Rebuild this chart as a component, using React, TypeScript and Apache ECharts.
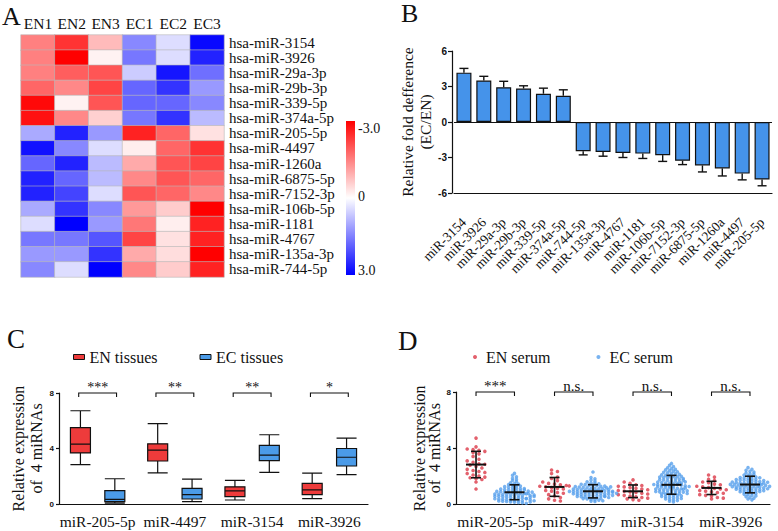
import React, { useEffect, useRef } from 'react';
import * as echarts from 'echarts';

const SERIF = 'Liberation Serif, serif';
const SANS = 'Liberation Sans, sans-serif';
const INK = '#111111';

// ---------- Panel A: heatmap ----------
const heatCols = ['EN1', 'EN2', 'EN3', 'EC1', 'EC2', 'EC3'];
const heatRows = [
  'hsa-miR-3154', 'hsa-miR-3926', 'hsa-miR-29a-3p', 'hsa-miR-29b-3p', 'hsa-miR-339-5p',
  'hsa-miR-374a-5p', 'hsa-miR-205-5p', 'hsa-miR-4497', 'hsa-miR-1260a', 'hsa-miR-6875-5p',
  'hsa-miR-7152-3p', 'hsa-miR-106b-5p', 'hsa-miR-1181', 'hsa-miR-4767', 'hsa-miR-135a-3p',
  'hsa-miR-744-5p',
];
const heatValues = [
  [-1.5, -2.4, -0.8, 1.4, 0.4, 2.9],
  [-1.5, -3.0, -0.15, 1.6, 0.4, 2.6],
  [-1.5, -1.9, -2.0, 0.6, 2.75, 1.7],
  [-1.8, -1.4, -2.2, 1.8, 2.4, 1.2],
  [-2.9, -0.15, -2.0, 1.8, 1.8, 1.4],
  [-2.8, -1.4, -0.55, 1.6, 2.4, 0.8],
  [1.0, 2.6, 1.2, -2.6, -1.8, -0.35],
  [2.8, 1.4, 0.4, -0.2, -1.8, -2.4],
  [1.8, 2.6, 0.8, -1.0, -2.0, -2.2],
  [2.6, 1.8, 0.8, -1.4, -2.0, -1.8],
  [2.6, 2.2, 0.4, -2.0, -1.8, -1.4],
  [1.0, 2.4, 1.4, -1.2, -0.6, -3.0],
  [0.4, 3.0, 1.2, -1.6, -0.2, -2.6],
  [1.6, 1.6, 2.0, -2.2, -0.35, -2.6],
  [1.2, 1.2, 2.4, -1.0, -0.4, -3.0],
  [1.4, 0.4, 3.0, -1.4, -0.6, -2.6],
];
const colorbarLabels = ['-3.0', '0', '3.0'];

// ---------- Panel B: fold difference ----------
const foldCats = [
  'miR-3154', 'miR-3926', 'miR-29a-3p', 'miR-29b-3p', 'miR-339-5p', 'miR-374a-5p',
  'miR-744-5p', 'miR-135a-3p', 'miR-4767', 'miR-1181', 'miR-106b-5p', 'miR-7152-3p',
  'miR-6875-5p', 'miR-1260a', 'miR-4497', 'miR-205-5p',
];
const foldValues = [4.17, 3.5, 2.94, 2.83, 2.39, 2.22, -2.47, -2.53, -2.61, -2.67, -2.8, -3.28, -3.67, -3.92, -4.36, -4.86];
const foldErrors = [0.36, 0.36, 0.5, 0.23, 0.47, 0.5, 0.31, 0.36, 0.39, 0.41, 0.53, 0.32, 0.55, 0.64, 0.53, 0.53];
const foldTicks = { min: -6, max: 6, interval: 3 };

// ---------- Panel C: tissues boxplot ----------
const mirCats = ['miR-205-5p', 'miR-4497', 'miR-3154', 'miR-3926'];
// [min, Q1, median, Q3, max]
const tissueEN = [
  [2.84, 3.68, 4.32, 5.5, 6.72],
  [2.25, 3.1, 3.88, 4.34, 5.79],
  [0.29, 0.53, 0.95, 1.24, 1.7],
  [0.39, 0.68, 1.02, 1.48, 2.23],
];
const tissueEC = [
  [0.07, 0.17, 0.34, 0.97, 1.82],
  [0.17, 0.36, 0.68, 1.12, 1.79],
  [2.28, 3.13, 3.52, 4.22, 4.99],
  [2.11, 2.74, 3.37, 4.0, 4.75],
];
const tissueSig = ['***', '**', '**', '*'];

// ---------- Panel D: serum scatter ----------
const serumEN = [
  [4.72, 4.1, 3.95, 3.9, 3.85, 3.78, 3.7, 3.6, 3.42, 3.22, 3.1, 3.0, 2.9, 2.86, 2.8, 2.7, 2.6, 2.5, 2.42, 2.35, 2.28, 2.2, 2.1, 2.02, 1.95, 1.9, 1.84, 1.78, 1.6, 1.1],
  [2.45, 2.35, 2.2, 1.95, 1.85, 1.7, 1.6, 1.5, 1.45, 1.4, 1.35, 1.3, 1.25, 1.2, 1.15, 1.1, 1.0, 0.95, 0.85, 0.8, 0.7, 0.6, 0.5, 0.4, 0.3, 0.25, 1.32],
  [1.75, 1.6, 1.5, 1.4, 1.35, 1.3, 1.25, 1.2, 1.15, 1.1, 1.05, 1.0, 0.95, 0.9, 0.85, 0.8, 0.75, 0.7, 0.65, 0.6, 0.55, 0.5, 0.45, 0.4, 0.35, 0.3],
  [2.1, 1.95, 1.8, 1.7, 1.6, 1.55, 1.45, 1.4, 1.3, 1.25, 1.2, 1.15, 1.1, 1.05, 1.0, 0.95, 0.9, 0.85, 0.8, 0.7, 0.65, 0.6, 0.5, 0.45, 0.4],
];
const serumEC = [
  [2.21, 2.08, 1.97, 1.86, 1.79, 1.71, 1.63, 1.55, 1.49, 1.46, 1.41, 1.38, 1.33, 1.31, 1.27, 1.22, 1.19, 1.17, 1.12, 1.09, 1.07, 1.04, 1.01, 0.99, 0.97, 0.93, 0.91, 0.9, 0.87, 0.86, 0.83, 0.81, 0.79, 0.78, 0.74, 0.73, 0.71, 0.69, 0.67, 0.66, 0.63, 0.62, 0.59, 0.58, 0.56, 0.53, 0.52, 0.49, 0.47, 0.46, 0.43, 0.41, 0.39, 0.37, 0.36, 0.33, 0.31, 0.29, 0.27, 0.25, 0.23, 0.21, 0.19, 0.17, 0.14, 0.12, 0.09, 0.88, 0.76, 0.64, 0.51, 0.42, 0.34, 0.27, 0.18, 1.03, 0.95, 0.57, 0.68, 1.14],
  [2.31, 1.92, 1.83, 1.74, 1.66, 1.61, 1.55, 1.52, 1.47, 1.44, 1.41, 1.38, 1.36, 1.33, 1.29, 1.27, 1.24, 1.22, 1.19, 1.16, 1.14, 1.12, 1.09, 1.07, 1.05, 1.03, 1.01, 0.99, 0.97, 0.95, 0.93, 0.92, 0.9, 0.88, 0.86, 0.84, 0.83, 0.81, 0.79, 0.77, 0.76, 0.74, 0.72, 0.7, 0.68, 0.66, 0.64, 0.62, 0.6, 0.58, 0.56, 0.54, 0.52, 0.49, 0.47, 0.44, 0.42, 0.39, 0.36, 0.33, 0.3, 0.27, 0.24, 0.21, 0.98, 0.91, 0.87, 1.06, 1.11, 0.8, 0.73, 0.65, 1.18, 1.25, 0.57, 0.5, 1.31, 0.94],
  [2.92, 2.78, 2.69, 2.61, 2.55, 2.5, 2.46, 2.41, 2.37, 2.33, 2.29, 2.25, 2.21, 2.18, 2.14, 2.11, 2.07, 2.04, 2.01, 1.98, 1.95, 1.92, 1.89, 1.86, 1.83, 1.8, 1.77, 1.74, 1.71, 1.68, 1.65, 1.62, 1.59, 1.56, 1.53, 1.5, 1.47, 1.45, 1.42, 1.4, 1.37, 1.35, 1.32, 1.3, 1.27, 1.25, 1.22, 1.2, 1.17, 1.15, 1.12, 1.1, 1.07, 1.05, 1.02, 1.0, 0.97, 0.95, 0.92, 0.9, 0.87, 0.85, 0.82, 0.8, 0.77, 0.75, 0.72, 0.7, 0.67, 0.64, 0.61, 0.58, 0.55, 0.52, 0.49, 0.46, 0.43, 0.4, 0.36, 0.32, 0.28, 0.23, 0.18, 1.43, 1.38, 1.33, 1.28, 1.52, 1.61, 1.18, 1.08, 0.98, 1.73, 1.85, 2.0, 0.88, 0.78],
  [2.62, 2.51, 2.43, 2.36, 2.3, 2.24, 2.19, 2.14, 2.09, 2.04, 2.0, 1.96, 1.92, 1.88, 1.85, 1.81, 1.78, 1.75, 1.72, 1.69, 1.66, 1.63, 1.6, 1.57, 1.55, 1.52, 1.5, 1.47, 1.45, 1.43, 1.41, 1.39, 1.37, 1.34, 1.32, 1.3, 1.28, 1.26, 1.23, 1.21, 1.19, 1.16, 1.14, 1.11, 1.09, 1.06, 1.03, 1.0, 0.97, 0.94, 0.91, 0.88, 0.85, 0.81, 0.78, 0.74, 0.7, 0.66, 0.61, 0.56, 0.51, 0.45, 0.39, 0.33, 1.42, 1.36, 1.29, 1.46, 1.53, 1.24, 1.18, 1.58, 1.12, 1.64, 1.07, 1.71, 0.99, 1.79, 0.92, 1.9],
];
const serumMeanEN = [2.84, 1.25, 0.94, 1.18];
const serumSdEN = [0.94, 0.67, 0.45, 0.47];
const serumMeanEC = [0.87, 0.94, 1.4, 1.42];
const serumSdEC = [0.53, 0.47, 0.67, 0.59];
const serumSig = ['***', 'n.s.', 'n.s.', 'n.s.'];

const GROUP_OFFSET = 0.245; // fraction of a category band between group centres

// beeswarm layout of values around a category centre (value-axis units)
function swarm(values: number[], center: number, step: number, spread: number) {
  const bins = new Map<number, number[]>();
  values.forEach((v) => {
    const k = Math.round(v / step);
    if (!bins.has(k)) bins.set(k, []);
    bins.get(k)!.push(v);
  });
  const out: number[][] = [];
  bins.forEach((arr) => {
    arr.forEach((v, j) => out.push([center + (j - (arr.length - 1) / 2) * spread, v]));
  });
  return out;
}

function bracketRender(labels: string[], useValueAxis: boolean, fontSize: number) {
  return (params: any, api: any) => {
    const i = api.value(0);
    const y = api.value(1);
    let xl: number, xr: number, py: number;
    if (useValueAxis) {
      const a = api.coord([i - GROUP_OFFSET, y]);
      const b = api.coord([i + GROUP_OFFSET, y]);
      xl = a[0]; xr = b[0]; py = a[1];
    } else {
      const c = api.coord([i, y]);
      const bw = api.size([1, 0])[0];
      xl = c[0] - bw * GROUP_OFFSET; xr = c[0] + bw * GROUP_OFFSET; py = c[1];
    }
    return {
      type: 'group',
      children: [
        {
          type: 'polyline',
          shape: { points: [[xl, py + 4], [xl, py], [xr, py], [xr, py + 4]] },
          style: { stroke: INK, lineWidth: 1.1, fill: 'none' },
        },
        {
          type: 'text',
          style: {
            text: labels[params.dataIndex], x: (xl + xr) / 2, y: py - 6,
            align: 'center', verticalAlign: 'middle',
            fontFamily: SERIF, fontSize, fill: INK,
          },
        },
      ],
    };
  };
}

function meanSdRender(params: any, api: any) {
  const x = api.value(0);
  const m = api.value(1);
  const sd = api.value(2);
  const c = api.coord([x, m]);
  const t = api.coord([x, m + sd]);
  const b = api.coord([x, m - sd]);
  const st = { stroke: INK, lineWidth: 1.6 };
  return {
    type: 'group',
    children: [
      { type: 'line', shape: { x1: c[0] - 10, y1: c[1], x2: c[0] + 10, y2: c[1] }, style: { stroke: INK, lineWidth: 2 } },
      { type: 'line', shape: { x1: c[0], y1: t[1], x2: c[0], y2: b[1] }, style: st },
      { type: 'line', shape: { x1: c[0] - 5, y1: t[1], x2: c[0] + 5, y2: t[1] }, style: st },
      { type: 'line', shape: { x1: c[0] - 5, y1: b[1], x2: c[0] + 5, y2: b[1] }, style: st },
    ],
  };
}

function errRender(params: any, api: any) {
  const i = api.value(0);
  const v = api.value(1);
  const e = api.value(2);
  const end = v + Math.sign(v) * e;
  const p0 = api.coord([i, v]);
  const p1 = api.coord([i, end]);
  const st = { stroke: INK, lineWidth: 1.4 };
  return {
    type: 'group',
    children: [
      { type: 'line', shape: { x1: p0[0], y1: p0[1], x2: p1[0], y2: p1[1] }, style: st },
      { type: 'line', shape: { x1: p1[0] - 4.5, y1: p1[1], x2: p1[0] + 4.5, y2: p1[1] }, style: st },
    ],
  };
}

const axisLineStyle = { color: INK, width: 1.2 };
const smallTick = { fontFamily: SANS, fontWeight: 'bold' as const, fontSize: 8, color: INK };
const legendText = { fontFamily: SERIF, fontSize: 16, color: INK };
const RED_BOX = '#ee3b3b';
const BLUE_BOX = '#4b9be8';
const RED_DOT = '#dc3a48';
const BLUE_DOT = '#58a0ec';

export default function App() {
  const ref = useRef<HTMLDivElement>(null);
  useEffect(() => {
    if (!ref.current) return;
    const chart = echarts.init(ref.current, undefined, { renderer: 'svg' });

    const heatData: number[][] = [];
    heatValues.forEach((row, r) => row.forEach((v, c) => heatData.push([c, r, v])));

    const swarmEN: number[][] = [];
    const swarmEC: number[][] = [];
    serumEN.forEach((vals, i) => swarmEN.push(...swarm(vals, i - GROUP_OFFSET, 0.3, 0.075)));
    serumEC.forEach((vals, i) => swarmEC.push(...swarm(vals, i + GROUP_OFFSET, 0.17, 0.05)));

    const option: any = {
      animation: false,
      backgroundColor: '#ffffff',
      textStyle: { fontFamily: SERIF },
      grid: [
        { left: 21, top: 35, width: 203, height: 242 },
        { left: 454, top: 51, width: 318, height: 142 },
        { left: 59, top: 393, width: 309, height: 111 },
        { left: 456, top: 392, width: 314, height: 112.5 },
      ],
      xAxis: [
        {
          type: 'category', gridIndex: 0, position: 'top', data: heatCols,
          axisLine: { show: false }, axisTick: { show: false }, splitLine: { show: false },
          axisLabel: { interval: 0, fontFamily: SERIF, fontSize: 15.5, color: INK, margin: 4 },
        },
        {
          type: 'category', gridIndex: 1, data: foldCats,
          axisLine: { onZero: false, lineStyle: axisLineStyle },
          axisTick: { alignWithLabel: true, length: 4, lineStyle: axisLineStyle },
          axisLabel: { rotate: 45, interval: 0, fontFamily: SERIF, fontSize: 13.5, color: INK, margin: 27 },
        },
        {
          type: 'category', gridIndex: 2, data: mirCats,
          axisLine: { onZero: false, lineStyle: axisLineStyle }, axisTick: { show: false },
          axisLabel: { interval: 0, fontFamily: SERIF, fontSize: 15.5, color: INK, margin: 9 },
        },
        {
          type: 'category', gridIndex: 3, data: mirCats,
          axisLine: { onZero: false, lineStyle: axisLineStyle }, axisTick: { show: false },
          axisLabel: { interval: 0, fontFamily: SERIF, fontSize: 15.5, color: INK, margin: 9 },
        },
        { type: 'value', gridIndex: 3, min: -0.5, max: 3.5, show: false },
      ],
      yAxis: [
        {
          type: 'category', gridIndex: 0, position: 'right', inverse: true, data: heatRows,
          axisLine: { show: false }, axisTick: { show: false }, splitLine: { show: false },
          axisLabel: { interval: 0, fontFamily: SERIF, fontSize: 15, color: INK, margin: 5 },
        },
        {
          type: 'value', gridIndex: 1, min: foldTicks.min, max: foldTicks.max, interval: foldTicks.interval, offset: 2,
          axisLine: { show: true, onZero: false, lineStyle: axisLineStyle },
          axisTick: { show: true, length: 4, lineStyle: axisLineStyle },
          splitLine: { show: false },
          axisLabel: { fontFamily: SANS, fontWeight: 'bold', fontSize: 10, color: INK, margin: 5 },
          name: 'Relative fold defference\n(EC/EN)', nameLocation: 'middle', nameGap: 15,
          nameTextStyle: { fontFamily: SERIF, fontSize: 15.5, color: INK, lineHeight: 18 },
        },
        {
          type: 'value', gridIndex: 2, min: 0, max: 8, interval: 4,
          axisLine: { show: true, onZero: false, lineStyle: axisLineStyle },
          axisTick: { show: true, length: 3, lineStyle: axisLineStyle },
          splitLine: { show: false },
          axisLabel: { ...smallTick, margin: 5 },
          name: 'Relative expression\nof  4 miRNAs', nameLocation: 'middle', nameGap: 11,
          nameTextStyle: { fontFamily: SERIF, fontSize: 16, color: INK, lineHeight: 18 },
        },
        {
          type: 'value', gridIndex: 3, min: 0, max: 8, interval: 4,
          axisLine: { show: true, onZero: false, lineStyle: axisLineStyle },
          axisTick: { show: true, length: 3, lineStyle: axisLineStyle },
          splitLine: { show: false },
          axisLabel: { ...smallTick, margin: 5 },
          name: 'Relative expression\nof  4 miRNAs', nameLocation: 'middle', nameGap: 14,
          nameTextStyle: { fontFamily: SERIF, fontSize: 16, color: INK, lineHeight: 15 },
        },
      ],
      visualMap: {
        type: 'continuous', show: false, min: -3, max: 3, seriesIndex: 0,
        inRange: { color: ['#ff0000', '#ffffff', '#0000ff'] },
      },
      legend: [
        {
          data: [
            { name: 'EN tissues', icon: 'rect', itemStyle: { color: RED_BOX, borderColor: INK, borderWidth: 1 } },
            { name: 'EC tissues', icon: 'rect', itemStyle: { color: BLUE_BOX, borderColor: INK, borderWidth: 1 } },
          ],
          left: 68, top: 344, itemWidth: 11, itemHeight: 5, itemGap: 42, selectedMode: false,
          textStyle: legendText,
        },
        {
          data: [
            { name: 'EN serum', icon: 'circle', itemStyle: { color: RED_DOT } },
            { name: 'EC serum', icon: 'circle', itemStyle: { color: BLUE_DOT } },
          ],
          left: 468, top: 344, itemWidth: 12, itemHeight: 4, itemGap: 46, selectedMode: false,
          textStyle: legendText,
        },
      ],
      series: [
        {
          type: 'heatmap', xAxisIndex: 0, yAxisIndex: 0, data: heatData,
          itemStyle: { borderColor: '#b8b8b8', borderWidth: 0.6 },
        },
        {
          type: 'bar', name: 'fold', xAxisIndex: 1, yAxisIndex: 1, data: foldValues, barWidth: 15,
          itemStyle: { color: '#4593ea', borderColor: INK, borderWidth: 1.2 },
          markLine: {
            silent: true, symbol: 'none', label: { show: false },
            lineStyle: { color: INK, width: 1.2, type: 'solid' },
            data: [{ yAxis: 0 }],
          },
        },
        {
          type: 'custom', name: 'fold error', xAxisIndex: 1, yAxisIndex: 1,
          data: foldValues.map((v, i) => [i, v, foldErrors[i]]),
          renderItem: errRender, z: 5,
        },
        {
          type: 'boxplot', name: 'EN tissues', xAxisIndex: 2, yAxisIndex: 2, data: tissueEN, boxWidth: [20, 20],
          itemStyle: { color: RED_BOX, borderColor: INK, borderWidth: 1.2 },
        },
        {
          type: 'boxplot', name: 'EC tissues', xAxisIndex: 2, yAxisIndex: 2, data: tissueEC, boxWidth: [20, 20],
          itemStyle: { color: BLUE_BOX, borderColor: INK, borderWidth: 1.2 },
        },
        {
          type: 'custom', name: 'tissue sig', xAxisIndex: 2, yAxisIndex: 2,
          data: mirCats.map((_, i) => [i, 8]),
          renderItem: bracketRender(tissueSig, false, 14),
        },
        {
          type: 'scatter', name: 'EN serum', xAxisIndex: 4, yAxisIndex: 3, data: swarmEN,
          symbolSize: 3.6, itemStyle: { color: RED_DOT },
        },
        {
          type: 'scatter', name: 'EC serum', xAxisIndex: 4, yAxisIndex: 3, data: swarmEC,
          symbolSize: 3.6, itemStyle: { color: BLUE_DOT },
        },
        {
          type: 'custom', name: 'serum mean', xAxisIndex: 4, yAxisIndex: 3, z: 5,
          data: [
            ...serumMeanEN.map((m, i) => [i - GROUP_OFFSET, m, serumSdEN[i]]),
            ...serumMeanEC.map((m, i) => [i + GROUP_OFFSET, m, serumSdEC[i]]),
          ],
          renderItem: meanSdRender,
        },
        {
          type: 'custom', name: 'serum sig', xAxisIndex: 4, yAxisIndex: 3,
          data: mirCats.map((_, i) => [i, 8]),
          renderItem: bracketRender(serumSig, true, 15),
        },
      ],
      graphic: [
        { type: 'text', left: 2, top: 3, style: { text: 'A', fontFamily: SERIF, fontSize: 26, fill: INK } },
        { type: 'text', left: 401, top: 0, style: { text: 'B', fontFamily: SERIF, fontSize: 26, fill: INK } },
        { type: 'text', left: 7, top: 325, style: { text: 'C', fontFamily: SERIF, fontSize: 27, fill: INK } },
        { type: 'text', left: 398, top: 327, style: { text: 'D', fontFamily: SERIF, fontSize: 27, fill: INK } },
        {
          type: 'rect', shape: { x: 346, y: 121, width: 9, height: 154 },
          style: {
            fill: new echarts.graphic.LinearGradient(0, 0, 0, 1, [
              { offset: 0, color: '#ff0000' }, { offset: 0.5, color: '#ffffff' }, { offset: 1, color: '#0000ff' },
            ]),
          },
        },
        { type: 'text', x: 358, y: 128, style: { text: colorbarLabels[0], fontFamily: SERIF, fontSize: 14, fill: INK, verticalAlign: 'middle' } },
        { type: 'text', x: 358, y: 196, style: { text: colorbarLabels[1], fontFamily: SERIF, fontSize: 14, fill: INK, verticalAlign: 'middle' } },
        { type: 'text', x: 358, y: 270, style: { text: colorbarLabels[2], fontFamily: SERIF, fontSize: 14, fill: INK, verticalAlign: 'middle' } },
      ],
    };

    chart.setOption(option);
    return () => chart.dispose();
  }, []);

  return (
    <div
      ref={ref}
      style={{ position: 'absolute', left: 0, top: 0, width: 778, height: 531, background: '#fff' }}
    />
  );
}
